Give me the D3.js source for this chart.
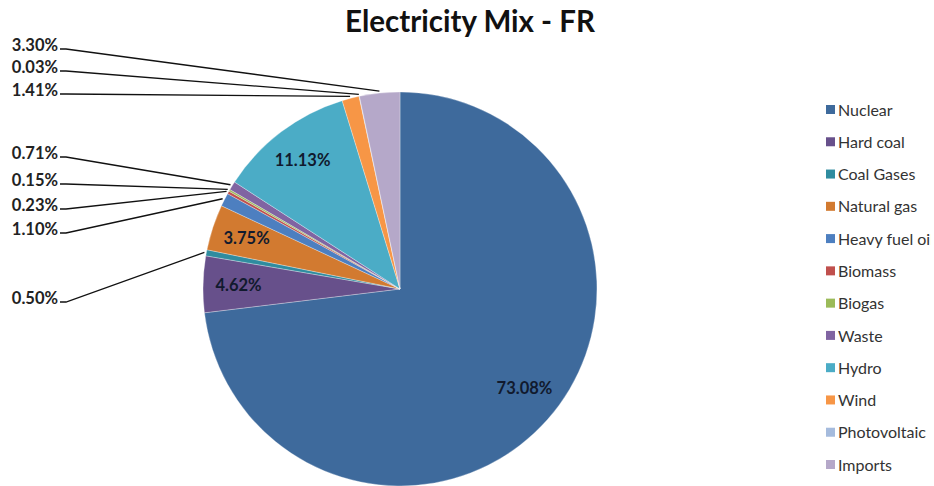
<!DOCTYPE html>
<html>
<head>
<meta charset="utf-8">
<script src="https://cdn.jsdelivr.net/npm/d3@7/dist/d3.min.js"></script>
<style>
  html, body { margin: 0; padding: 0; background: #fff; }
  svg { display: block; font-family: Lato, "Open Sans", sans-serif; }
</style>
</head>
<body>
<svg id="chart" width="934" height="486"></svg>
<script>
// Electricity generation mix for France, share of total (%)
const sources = ["Nuclear", "Hard coal", "Coal Gases", "Natural gas", "Heavy fuel oil", "Biomass",
                 "Biogas", "Waste", "Hydro", "Wind", "Photovoltaic", "Imports"];
const shares  = [73.08, 4.62, 0.50, 3.75, 1.10, 0.23, 0.15, 0.71, 11.13, 1.41, 0.03, 3.30];
const colors  = ["#3e6a9c", "#67508b", "#2f8c9f", "#d27a30", "#4d7fc0", "#c0504d",
                 "#9bbb59", "#8064a2", "#4bacc6", "#f79646", "#a5bbdd", "#b5a8c9"];
// slices labelled inside the pie; the rest get leader lines to the left margin
const insideLabels = ["Nuclear", "Hard coal", "Natural gas", "Hydro"];
// label rows on the left, top to bottom, with their text baselines
const outsideOrder = ["Imports", "Photovoltaic", "Wind", "Waste", "Biogas", "Biomass", "Heavy fuel oil", "Coal Gases"];
const outsideRows  = [51, 73, 96, 159, 186, 211, 235, 304];

const svg = d3.select("#chart");
const cx = 400, cy = 289, R = 197;

const data = sources.map((s, i) => ({ source: s, value: shares[i] }));
const color = d3.scaleOrdinal().domain(sources).range(colors);

const pie = d3.pie().sort(null).value(d => d.value);
const arcs = pie(data);
const arc = d3.arc().innerRadius(0).outerRadius(R);

// title
svg.append("text")
  .attr("x", 470).attr("y", 32)
  .attr("text-anchor", "middle")
  .attr("font-size", 29.5).attr("font-weight", 700)
  .attr("fill", "#111")
  .text("Electricity Mix - FR");

const g = svg.append("g").attr("transform", `translate(${cx},${cy})`);

g.selectAll("path.slice")
  .data(arcs)
  .join("path")
  .attr("class", "slice")
  .attr("d", arc)
  .attr("fill", d => color(d.data.source))
  .attr("stroke", "#fff")
  .attr("stroke-width", 0.6)
  .attr("stroke-opacity", 0.5);

// inside labels
const labelArc = d3.arc().innerRadius(R * 0.82).outerRadius(R * 0.82);
g.selectAll("text.inside")
  .data(arcs.filter(d => insideLabels.includes(d.data.source)))
  .join("text")
  .attr("class", "inside")
  .attr("transform", d => {
    const [x, y] = labelArc.centroid(d);
    // the large slice's label sits a little nearer the centre
    const k = d.data.source === "Nuclear" ? 0.93 : 1;
    return `translate(${x * k + (k < 1 ? 12 : 0)},${y * k})`;
  })
  .attr("text-anchor", "middle")
  .attr("dy", "0.35em")
  .attr("font-size", 16.5).attr("font-weight", 700)
  .attr("fill", "#111a2e")
  .text(d => d.data.value.toFixed(2) + "%");

// outside labels with leader lines
const edgeArc = d3.arc().innerRadius(R + 2).outerRadius(R + 2);
const outside = outsideOrder.map((s, i) => {
  const a = arcs.find(d => d.data.source === s);
  return { arc: a, y: outsideRows[i] };
});

svg.selectAll("path.leader")
  .data(outside)
  .join("path")
  .attr("class", "leader")
  .attr("fill", "none")
  .attr("stroke", "#111")
  .attr("stroke-width", 1.3)
  .attr("d", d => {
    const [ex, ey] = edgeArc.centroid(d.arc);
    return d3.line()([[60, d.y - 2], [66, d.y - 2], [cx + ex, cy + ey]]);
  });

svg.selectAll("text.outside")
  .data(outside)
  .join("text")
  .attr("class", "outside")
  .attr("x", 58).attr("y", d => d.y)
  .attr("text-anchor", "end")
  .attr("font-size", 16.5).attr("font-weight", 700)
  .attr("fill", "#222")
  .text(d => d.arc.data.value.toFixed(2) + "%");

// legend, clipped at the right edge of the chart area
svg.append("clipPath").attr("id", "legendClip")
  .append("rect").attr("x", 800).attr("y", 0).attr("width", 131).attr("height", 486);

const legendY = d3.scalePoint().domain(sources).range([110, 465]);
const legend = svg.append("g").attr("clip-path", "url(#legendClip)")
  .selectAll("g")
  .data(sources)
  .join("g")
  .attr("transform", d => `translate(826,${legendY(d)})`);

legend.append("rect")
  .attr("x", 0).attr("y", -5)
  .attr("width", 9).attr("height", 9)
  .attr("fill", d => color(d));

legend.append("text")
  .attr("x", 12).attr("y", 0)
  .attr("dy", "0.35em")
  .attr("font-size", 16)
  .attr("fill", "#333")
  .text(d => d);
</script>
</body>
</html>
